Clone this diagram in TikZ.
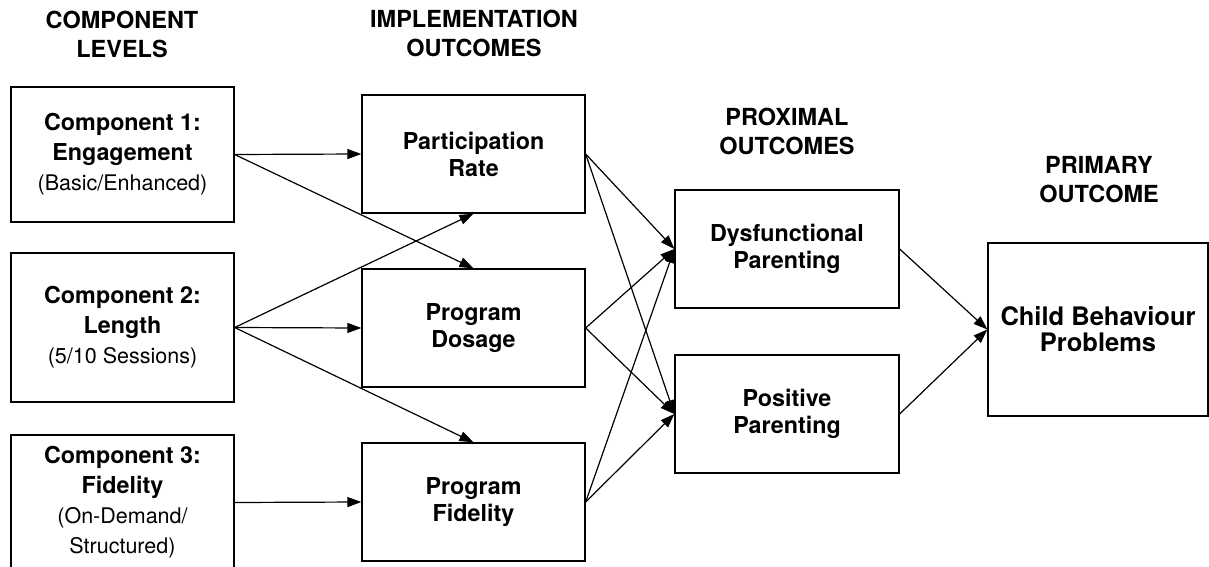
\documentclass[tikz,border=0pt]{standalone}
\usepackage{fontspec}
\setmainfont{TeX Gyre Heros}
\usetikzlibrary{arrows.meta}

\newcommand{\bt}{\fontsize{23.3}{30}\selectfont\bfseries}
\newcommand{\rt}{\fontsize{21.5}{30}\selectfont\mdseries}

\begin{document}
\begin{tikzpicture}[x=1pt,y=-1pt,
  box/.style={draw,line width=1.3pt,minimum width=223pt,align=center,inner sep=0pt,font=\bt},
  hdr/.style={align=center,inner sep=0pt,font=\fontsize{23.5}{29}\selectfont\bfseries},
  arr/.style={-{Triangle[length=14pt,width=10pt]},line width=1.2pt}]
\useasboundingbox (0,0) rectangle (1209,567);

\node[hdr] (hlev) at (122,34) {COMPONENT\\LEVELS};
\node[hdr] (himp) at (474,33) {IMPLEMENTATION\\OUTCOMES};
\node[hdr] (hprox) at (787,131) {PROXIMAL\\OUTCOMES};
\node[hdr] (hprim) at (1099,180) {PRIMARY\\OUTCOME};

\node[box,minimum height=135pt] (c1) at (122.5,154.5) {\bt Component 1:\\\bt Engagement\\\rt (Basic/Enhanced)};
\node[box,minimum height=149pt] (c2) at (122.5,327.5) {\bt Component 2:\\\bt Length\\\rt (5/10 Sessions)};
\node[box,minimum height=135pt] (c3) at (122.5,502.5) {\bt Component 3:\\\bt Fidelity\\\rt (On-Demand/\\\rt Structured)};

\node[box,minimum height=118pt,font=\fontsize{23.3}{27}\selectfont\bfseries] (pr) at (473.5,154) {Participation\\Rate};
\node[box,minimum height=118pt,font=\fontsize{23.3}{27}\selectfont\bfseries] (pd) at (473.5,328) {Program\\Dosage};
\node[box,minimum height=118pt,font=\fontsize{23.3}{27}\selectfont\bfseries] (pf) at (473.5,502) {Program\\Fidelity};

\node[box,minimum width=224pt,minimum height=118pt,font=\fontsize{23.3}{27}\selectfont\bfseries] (dp) at (787,249) {Dysfunctional\\Parenting};
\node[box,minimum width=224pt,minimum height=118pt,font=\fontsize{23.3}{27}\selectfont\bfseries] (pp) at (787,414) {Positive\\Parenting};

\node[box,minimum width=220pt,minimum height=173pt,font=\fontsize{25.5}{26}\selectfont\bfseries] (cbp) at (1098,329.5) {Child Behaviour\\Problems};

\draw[arr] (c1.east) -- (pr.west);
\draw[arr] (c1.east) -- (pd.north);
\draw[arr] (c2.east) -- (pr.south);
\draw[arr] (c2.east) -- (pd.west);
\draw[arr] (c2.east) -- (pf.north);
\draw[arr] (c3.east) -- (pf.west);

\draw[arr] (pr.east) -- (dp.west);
\draw[arr] (pr.east) -- (pp.west);
\draw[arr] (pd.east) -- (dp.west);
\draw[arr] (pd.east) -- (pp.west);
\draw[arr] (pf.east) -- (dp.west);
\draw[arr] (pf.east) -- (pp.west);

\draw[arr] (dp.east) -- (cbp.west);
\draw[arr] (pp.east) -- (cbp.west);
\end{tikzpicture}
\end{document}
